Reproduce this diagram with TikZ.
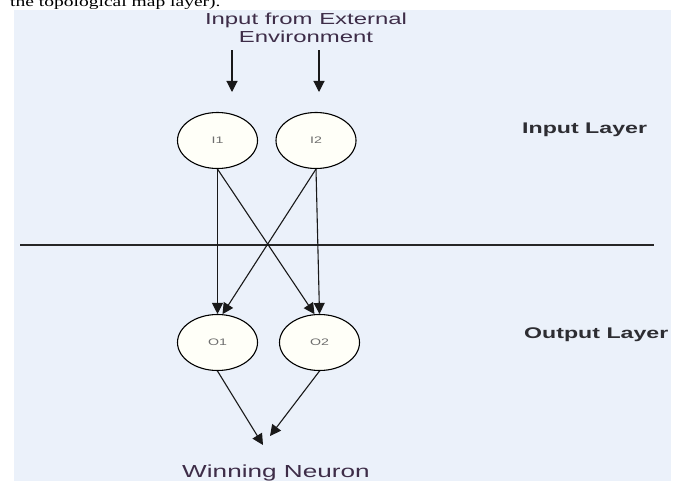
\documentclass[tikz,border=0pt]{standalone}
\usepackage{fontspec}
\usetikzlibrary{shapes.geometric,arrows.meta}
\newfontfamily\diagfont[FakeStretch=1.5]{Liberation Sans}
\newfontfamily\pagefont[FakeStretch=1.4]{Liberation Serif}
\definecolor{panelblue}{RGB}{235,241,250}
\definecolor{neuronfill}{RGB}{255,255,248}
\definecolor{captionink}{RGB}{62,45,72}
\definecolor{neuronink}{RGB}{110,110,110}
\definecolor{layerink}{RGB}{45,45,50}

\begin{document}
\begin{tikzpicture}[x=1bp, y=-1bp, neuron/.style = {shape=ellipse, draw=black, line width=1.1bp, fill=neuronfill, minimum width=80bp, minimum height=56bp, inner sep=0pt, text=neuronink, font=\diagfont\fontsize{9.5}{11}\selectfont}, link/.style = {line width=1.1bp, draw=black!90, -{Triangle[length=11bp,width=11bp]}}, layerlabel/.style = {anchor=base west, inner sep=0pt, text=layerink, font=\diagfont\bfseries\fontsize{15.5}{18}\selectfont}, caption/.style = {inner sep=0pt, align=center, text=captionink, font=\diagfont\fontsize{16}{19}\selectfont}]
\useasboundingbox (0,0) rectangle (679,481);
\node[anchor=base west, inner sep=0pt, font=\pagefont\fontsize{14}{16}\selectfont] (pagetext) at (10,6.5) {the topological map layer).};
\fill[panelblue] (14,10) rectangle (671,481);
\node[caption, anchor=north] (ext) at (306,12.3) {Input from External\\Environment};
\node[neuron] (I1) at (217.5,140.5) {I1};
\node[neuron] (I2) at (316,140.5) {I2};
\node[neuron] (O1) at (217.5,342.5) {O1};
\node[neuron] (O2) at (319.5,342.5) {O2};
\node[layerlabel] (inlayer) at (522,134) {Input Layer};
\node[layerlabel] (outlayer) at (524,338) {Output Layer};
\node[caption, anchor=base, font=\diagfont\fontsize{17.5}{20}\selectfont] (win) at (276,477) {Winning Neuron};
\coordinate (split west) at (20,245);
\coordinate (split east) at (654,245);
\coordinate (feed1) at (232,92);
\coordinate (feed2) at (319,92);
\coordinate (win1) at (263,445);
\coordinate (win2) at (270,436);
\draw[line width=1.6bp, draw=black!85] (split west) -- (split east);
\draw[link, shorten <=7bp] (ext.south -| feed1) -- (feed1);
\draw[link, shorten <=7bp] (ext.south -| feed2) -- (feed2);
\draw[link] (I1.south) -- (O1.north);
\draw[link] (I1.south) -- (O2.100);
\draw[link] (I2.south) -- (O1.80);
\draw[link] (I2.south) -- (O2.north);
\draw[link] (O1.south) -- (win1);
\draw[link] (O2.south) -- (win2);
\end{tikzpicture}
\end{document}
